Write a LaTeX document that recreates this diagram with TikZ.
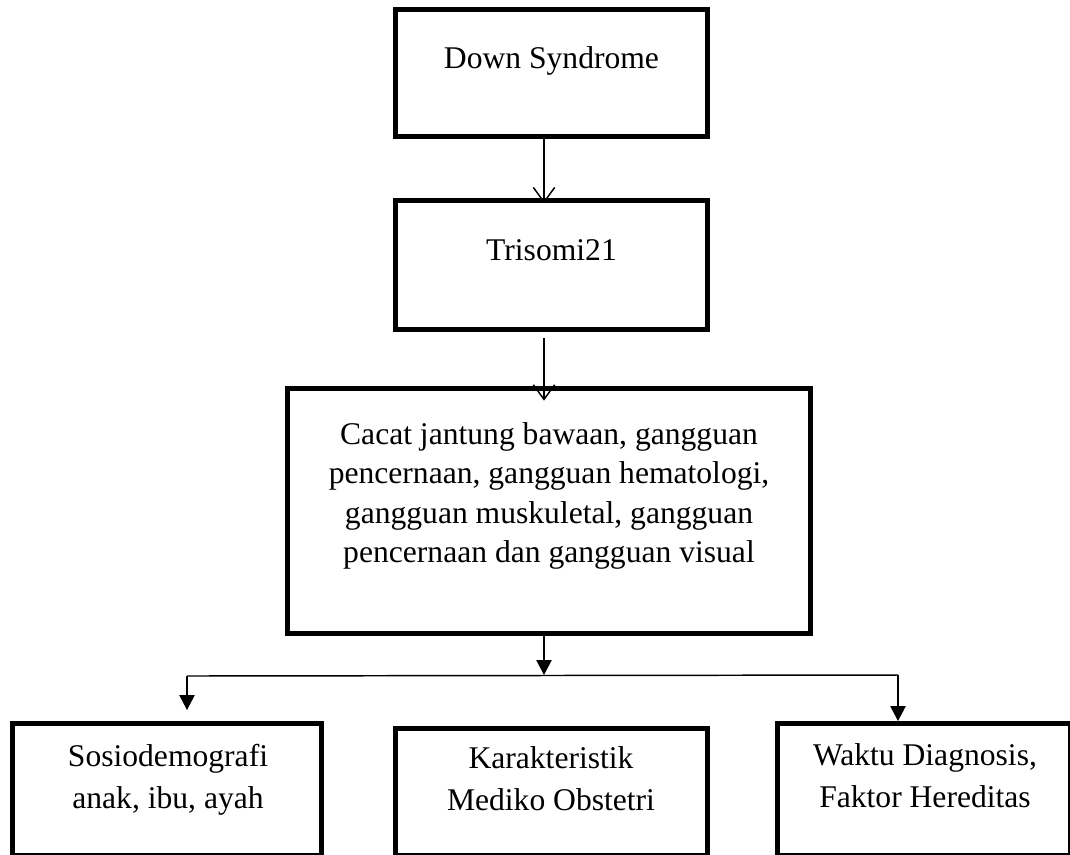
\documentclass[tikz,border=0pt]{standalone}
\usepackage{fontspec}
\setmainfont{Liberation Serif}
\usetikzlibrary{arrows.meta}
\begin{document}
\begin{tikzpicture}[x=0.75pt,y=-0.75pt,
  box/.style={draw=black, line width=3.75pt, inner sep=0pt},
  txt/.style={inner sep=0pt, anchor=north, align=center, font=\fontsize{23.7}{29.6}\selectfont},
  txtb/.style={txt, font=\fontsize{23.7}{31.5}\selectfont},
  opena/.style={line width=1.1pt, -{Straight Barb[length=11pt,width=16pt]}},
  filla/.style={line width=1.1pt, -{Triangle[length=11.25pt,width=11.5pt]}},
  conn/.style={line width=1.1pt}]
\useasboundingbox (0,0) rectangle (1070,854);
\fill[white] (0,0) rectangle (1070,854);
\clip (0,0) rectangle (1070,854);

% boxes
\node[box, minimum width=234pt, minimum height=95.25pt] (b1) at (551.5,72.5) {};
\node[box, minimum width=234pt, minimum height=96.75pt] (b2) at (551.5,265) {};
\node[box, minimum width=392.6pt, minimum height=183.4pt] (b3) at (549.25,510.75) {};
\node[box, minimum width=231.75pt, minimum height=98.6pt] (b4) at (167,789.25) {};
\node[box, minimum width=234pt, minimum height=95.25pt] (b5) at (551.5,791.5) {};
\node[box, minimum width=220.1pt, minimum height=98.6pt] (b6) at (924.25,789.25) {};

% texts
\node[txt] (t1) at (551.5,40.4) {\strut Down Syndrome};
\node[txt] (t2) at (551.5,232.4) {\strut Trisomi21};
\node[txt] (t3) at (549,416.4) {\strut Cacat jantung bawaan, gangguan\\pencernaan, gangguan hematologi,\\gangguan muskuletal, gangguan\\pencernaan dan gangguan visual};
\node[txtb] (t4) at (168,736.6) {\strut Sosiodemografi\\anak, ibu, ayah};
\node[txtb] (t5) at (551,738.6) {\strut Karakteristik\\Mediko Obstetri};
\node[txtb] (t6) at (925,735.6) {\strut Waktu Diagnosis,\\Faktor Hereditas};

% connectors
\coordinate (ax) at (544,0);
\coordinate (s2) at (544,338);
\coordinate (j) at (544,675);
\coordinate (la) at (187,676);
\coordinate (ra) at (898,675);

\draw[opena] (b1.south -| ax) -- ([yshift=-4pt]b2.north -| ax);
\draw[opena] (s2) -- ([yshift=-11pt]b3.north -| s2);
\draw[filla] (b3.south -| ax) -- (j);
\draw[conn] (la) -- (ra);
\draw[filla, shorten >=8.25pt] (la) -- (b4.north -| la);
\draw[filla] (ra) -- (b6.north -| ra);
\end{tikzpicture}
\end{document}
